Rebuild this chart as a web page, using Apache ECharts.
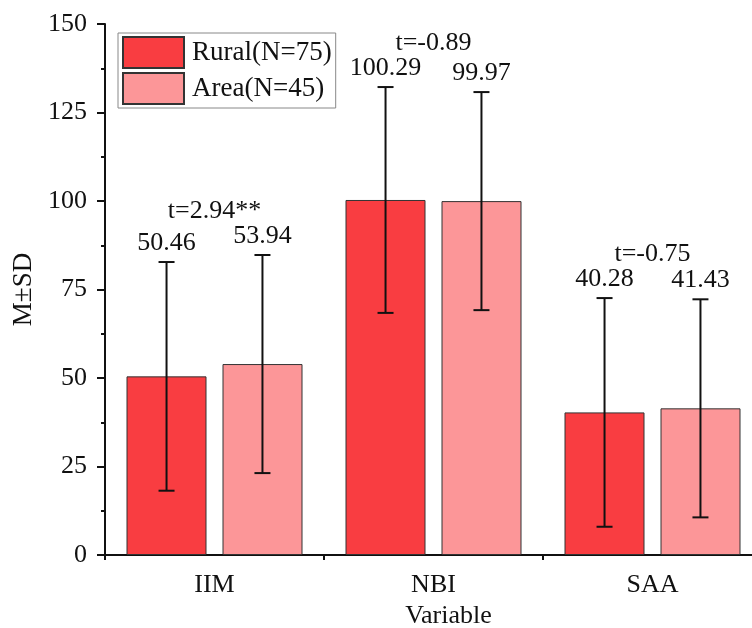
<!DOCTYPE html>
<html>
<head>
<meta charset="utf-8">
<script src="https://cdn.jsdelivr.net/npm/echarts@6/dist/echarts.min.js"></script>
<style>html,body{margin:0;padding:0;background:#fff;}#c{width:752px;height:628px;}</style>
</head>
<body>
<div id="c"></div>
<script>
const categories = ['IIM', 'NBI', 'SAA'];
const ruralMean = [50.46, 100.29, 40.28];
const ruralSD = [32.3, 31.9, 32.3];
const areaMean = [53.94, 99.97, 41.43];
const areaSD = [30.8, 30.8, 30.8];
const tLabels = ['t=2.94**', 't=-0.89', 't=-0.75'];
const seriesNames = ['Rural(N=75)', 'Area(N=45)'];

const FONT = "'Liberation Serif', 'Times New Roman', serif";
const ruralColor = '#f93d41';
const areaColor = '#fc9698';

function errSeries(means, sds, frac) {
  return {
    type: 'custom',
    z: 5,
    silent: true,
    clip: false,
    data: means.map((m, i) => [i, m, sds[i]]),
    renderItem: function (params, api) {
      const idx = api.value(0), m = api.value(1), s = api.value(2);
      const band = api.size([1, 0])[0];
      const cx = api.coord([idx, m])[0] + frac * band;
      const top = api.coord([idx, m + s])[1];
      const bot = api.coord([idx, m - s])[1];
      const st = { stroke: '#111', lineWidth: 2 };
      return {
        type: 'group',
        children: [
          { type: 'line', shape: { x1: cx, y1: top, x2: cx, y2: bot }, style: st },
          { type: 'line', shape: { x1: cx - 8, y1: top, x2: cx + 8, y2: top }, style: st },
          { type: 'line', shape: { x1: cx - 8, y1: bot, x2: cx + 8, y2: bot }, style: st },
          { type: 'text', x: cx, y: top - 19, style: { text: m.toFixed(2), fill: '#111', font: '26px ' + FONT, align: 'center', verticalAlign: 'middle' } }
        ]
      };
    }
  };
}

const tData = categories.map((c, i) => [i, Math.max(ruralMean[i] + ruralSD[i], areaMean[i] + areaSD[i])]);

const option = {
  animation: false,
  backgroundColor: '#fff',
  textStyle: { fontFamily: FONT },
  grid: { left: 105, right: -10, top: 24, bottom: 73, containLabel: false, outerBoundsMode: 'none' },
  legend: {
    left: 118, top: 33, orient: 'vertical',
    data: seriesNames,
    itemWidth: 61, itemHeight: 31, itemGap: 3,
    padding: [3, 4, 3, 4],
    borderColor: '#888', borderWidth: 1,
    icon: 'rect',
    textStyle: { fontSize: 27, fontFamily: FONT, color: '#111', padding: [0, 0, 0, 3] }
  },
  xAxis: [{
    type: 'category',
    data: categories,
    name: 'Variable',
    nameLocation: 'middle',
    nameGap: 42,
    nameTextStyle: { fontSize: 26, fontFamily: FONT, color: '#111', padding: [0, 0, 0, 30] },
    axisLine: { lineStyle: { color: '#111', width: 2 } },
    axisTick: { alignWithLabel: true, length: 8, lineStyle: { color: '#111', width: 2 } },
    axisLabel: { fontSize: 26, fontFamily: FONT, color: '#111', margin: 17 }
  }, {
    type: 'category',
    data: categories,
    position: 'bottom',
    axisLine: { show: false },
    axisTick: { show: true, length: 5, lineStyle: { color: '#111', width: 2 } },
    axisLabel: { show: false }
  }],
  yAxis: {
    type: 'value',
    min: 0, max: 150, interval: 25,
    name: 'M±SD',
    nameLocation: 'middle',
    nameGap: 66,
    nameRotate: 90,
    nameTextStyle: { fontSize: 27, fontFamily: FONT, color: '#111' },
    axisLine: { show: true, lineStyle: { color: '#111', width: 2 } },
    axisTick: { show: true, length: 8, lineStyle: { color: '#111', width: 2 } },
    minorTick: { show: true, splitNumber: 2, length: 4, lineStyle: { color: '#111', width: 2 } },
    splitLine: { show: false },
    axisLabel: { fontSize: 26, fontFamily: FONT, color: '#111', margin: 18 }
  },
  series: [
    { name: seriesNames[0], type: 'bar', data: ruralMean, barWidth: 80, barGap: '20%',
      itemStyle: { color: ruralColor, borderColor: '#333', borderWidth: 1 } },
    { name: seriesNames[1], type: 'bar', data: areaMean, barWidth: 80, barGap: '20%',
      itemStyle: { color: areaColor, borderColor: '#333', borderWidth: 1 } },
    errSeries(ruralMean, ruralSD, -0.219),
    errSeries(areaMean, areaSD, 0.219),
    {
      type: 'custom', z: 6, silent: true, clip: false,
      data: tData,
      renderItem: function (params, api) {
        const idx = api.value(0);
        const p = api.coord([idx, api.value(1)]);
        return { type: 'text', x: p[0], y: p[1] - 44,
          style: { text: tLabels[idx], fill: '#111', font: '26px ' + FONT, align: 'center', verticalAlign: 'middle' } };
      }
    }
  ]
};

const chart = echarts.init(document.getElementById('c'), null, { renderer: 'canvas' });
chart.setOption(option);
</script>
</body>
</html>
